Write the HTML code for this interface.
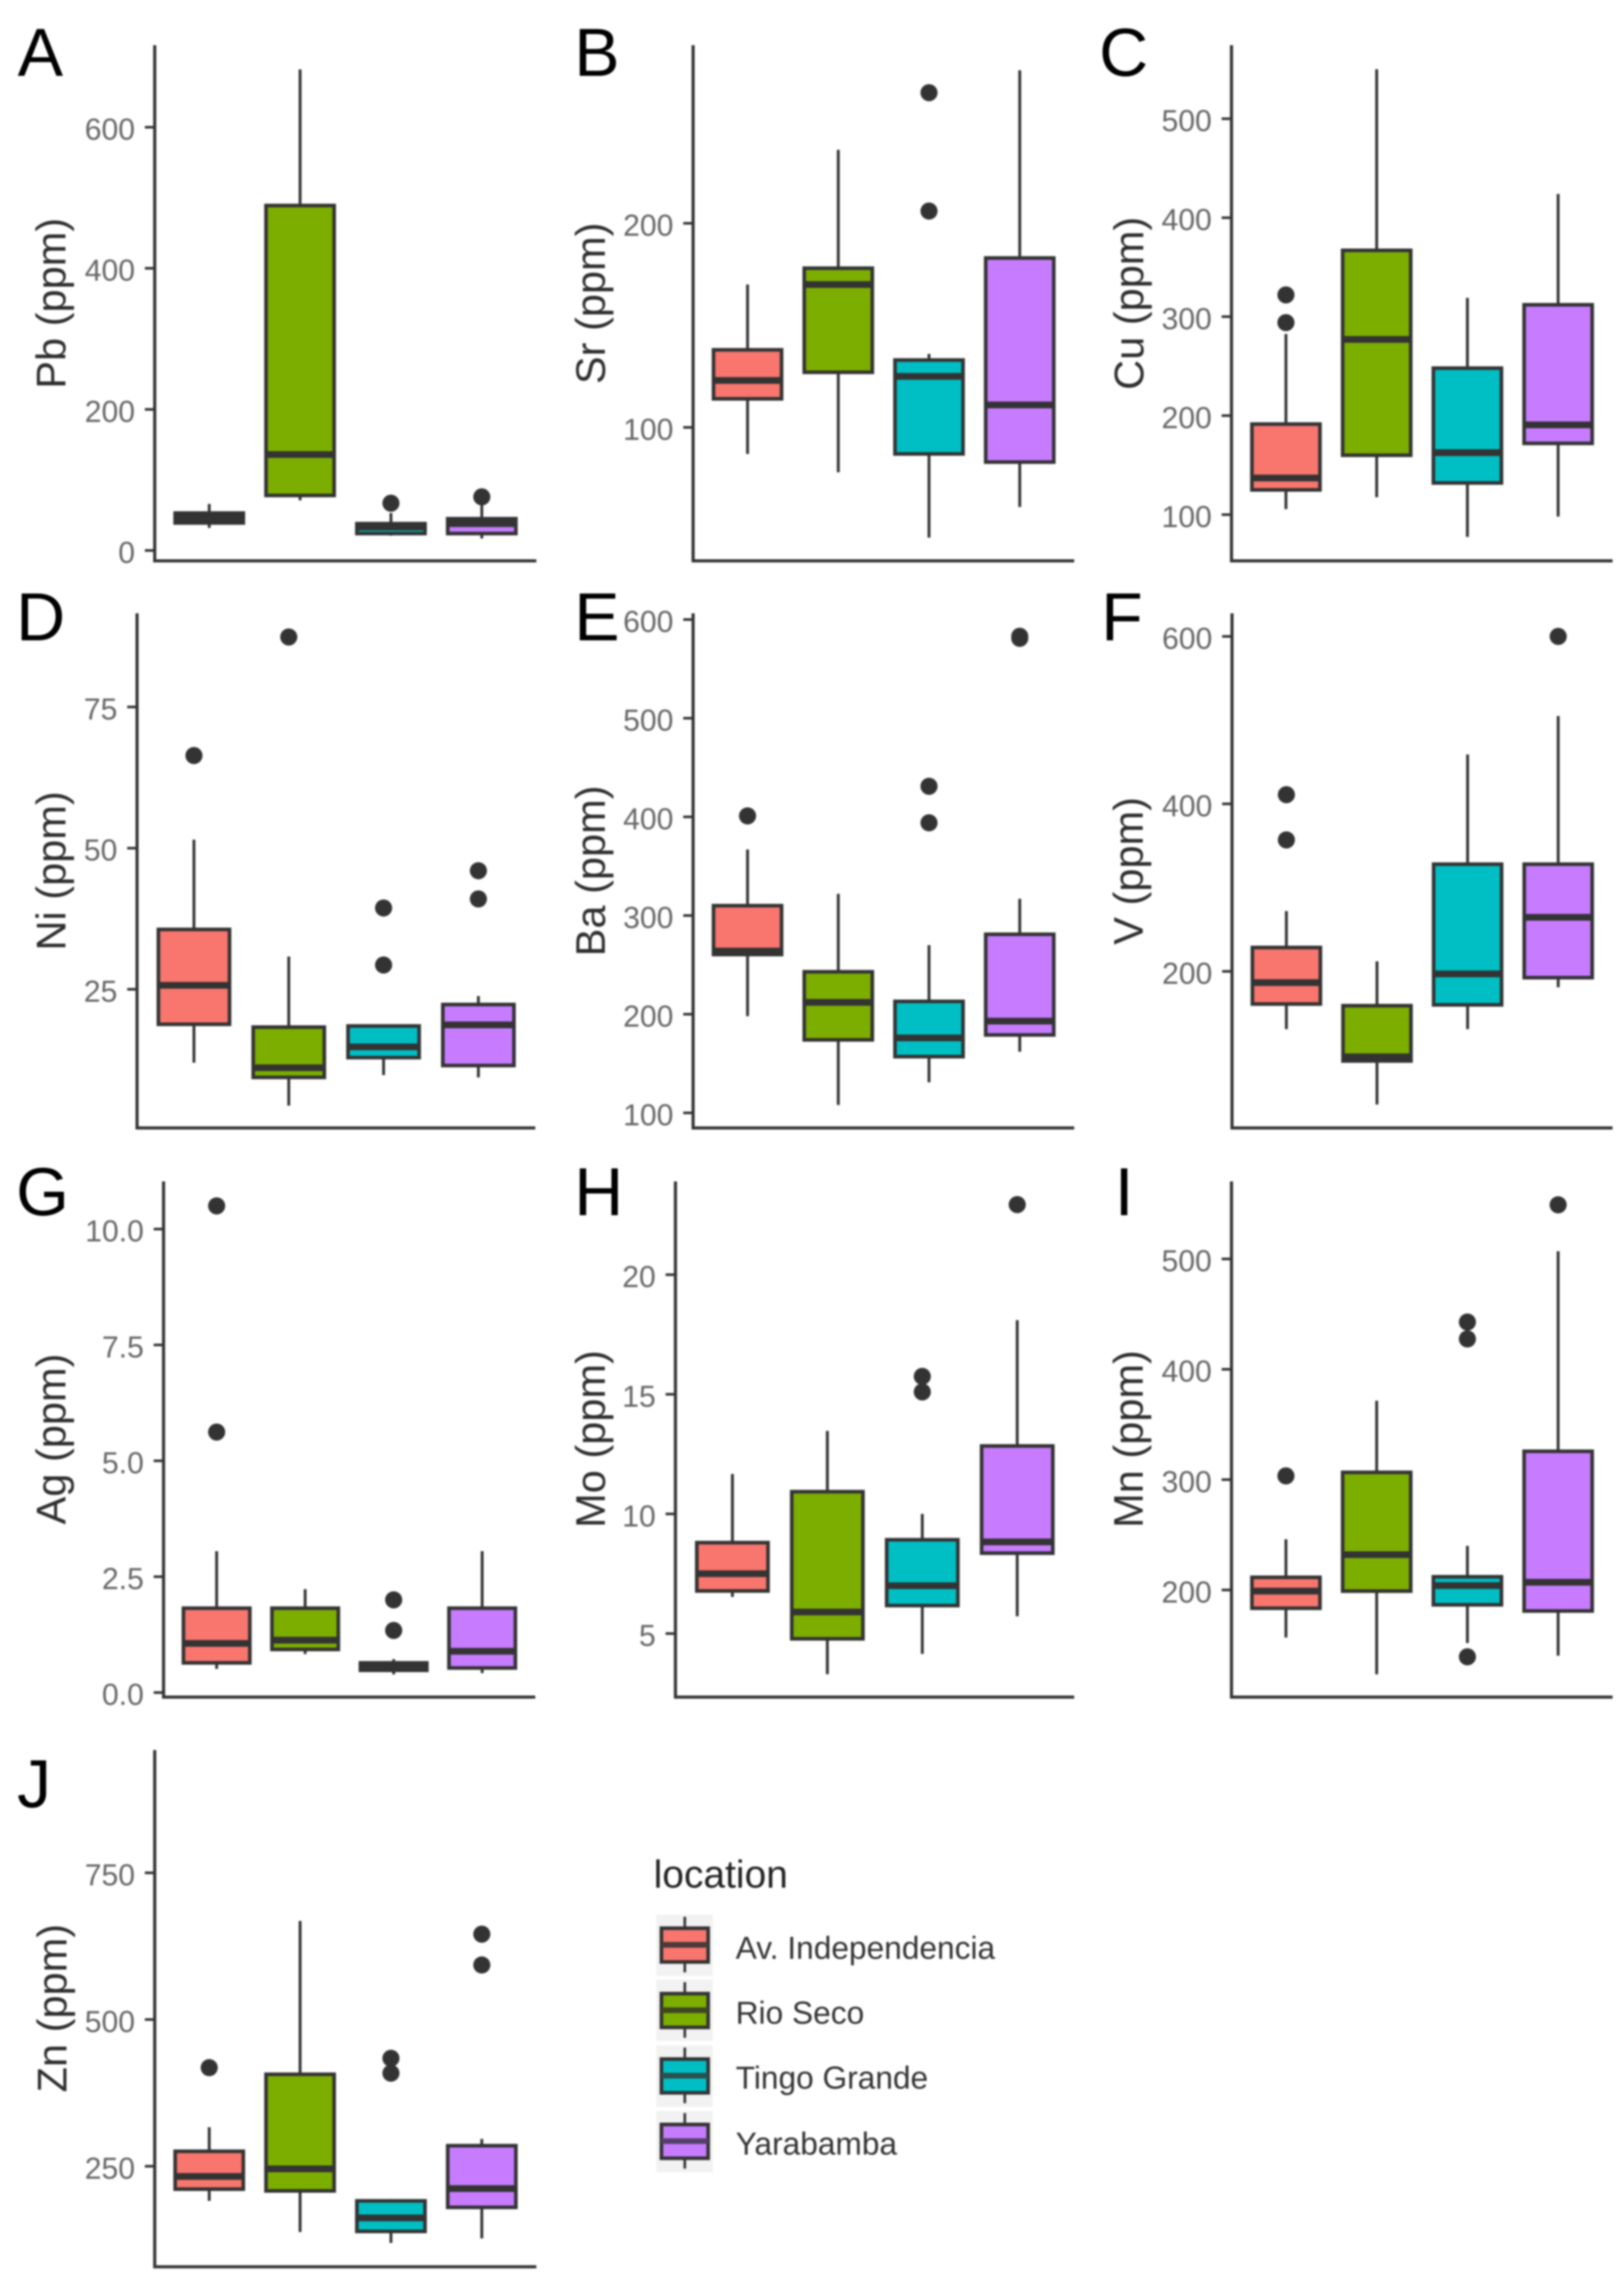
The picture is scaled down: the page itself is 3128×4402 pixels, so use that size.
<!DOCTYPE html>
<html lang="en">
<head>
<meta charset="utf-8">
<title>Trace element boxplots by location</title>
<style>
html,body{margin:0;padding:0;background:#fff;}
#figure{display:block;width:3128px;height:4402px;filter:blur(1.8px);font-family:"Liberation Sans",Arial,sans-serif;}
.letter{font-size:131px;fill:#000;}
.ytitle{font-size:80px;fill:#2e2e2e;text-anchor:middle;}
.legend-label{font-size:61px;fill:#333;}
</style>
</head>
<body>
<svg id="figure" xmlns="http://www.w3.org/2000/svg" width="3128" height="4402" viewBox="0 0 3128 4402">
  <rect x="0" y="0" width="3128" height="4402" fill="#ffffff"/>

  <g id="plots"></g>

  <g>
    <text class="letter" x="34" y="146">A</text>
    <text class="letter" x="1106" y="146">B</text>
    <text class="letter" x="2117" y="146">C</text>
    <text class="letter" x="31" y="1233">D</text>
    <text class="letter" x="1106" y="1233">E</text>
    <text class="letter" x="2121" y="1233">F</text>
    <text class="letter" x="31" y="2340">G</text>
    <text class="letter" x="1106" y="2340">H</text>
    <text class="letter" x="2147" y="2340">I</text>
    <text class="letter" x="33" y="3480">J</text>
  </g>

  <g>
    <text class="ytitle" transform="translate(126,584) rotate(-90)">Pb (ppm)</text>
    <text class="ytitle" transform="translate(1165,584) rotate(-90)">Sr (ppm)</text>
    <text class="ytitle" transform="translate(2202,584) rotate(-90)">Cu (ppm)</text>
    <text class="ytitle" transform="translate(126,1677) rotate(-90)">Ni (ppm)</text>
    <text class="ytitle" transform="translate(1165,1677) rotate(-90)">Ba (ppm)</text>
    <text class="ytitle" transform="translate(2201,1677) rotate(-90)">V (ppm)</text>
    <text class="ytitle" transform="translate(126,2771) rotate(-90)">Ag (ppm)</text>
    <text class="ytitle" transform="translate(1165,2771) rotate(-90)">Mo (ppm)</text>
    <text class="ytitle" transform="translate(2201,2771) rotate(-90)">Mn (ppm)</text>
    <text class="ytitle" transform="translate(128,3867) rotate(-90)">Zn (ppm)</text>
  </g>

  <g>
    <text x="1259" y="3635" font-size="75" fill="#222">location</text>

    <g>
      <rect x="1264" y="3687" width="109" height="118" fill="#f2f2f2"/>
      <line x1="1319" y1="3691" x2="1319" y2="3798" stroke="#333" stroke-width="5"/>
      <rect x="1274" y="3713" width="90" height="65" fill="#F8766D" stroke="#333" stroke-width="7"/>
      <line x1="1274" y1="3745" x2="1364" y2="3745" stroke="#4a3a3a" stroke-width="11"/>
      <text class="legend-label" x="1417" y="3772">Av. Independencia</text>
    </g>
    <g>
      <rect x="1264" y="3812" width="109" height="118" fill="#f2f2f2"/>
      <line x1="1319" y1="3817" x2="1319" y2="3924" stroke="#333" stroke-width="5"/>
      <rect x="1274" y="3839" width="90" height="65" fill="#7CAE00" stroke="#333" stroke-width="7"/>
      <line x1="1274" y1="3871" x2="1364" y2="3871" stroke="#40471f" stroke-width="11"/>
      <text class="legend-label" x="1417" y="3897">Rio Seco</text>
    </g>
    <g>
      <rect x="1264" y="3939" width="109" height="118" fill="#f2f2f2"/>
      <line x1="1319" y1="3943" x2="1319" y2="4050" stroke="#333" stroke-width="5"/>
      <rect x="1274" y="3965" width="90" height="65" fill="#00BFC4" stroke="#333" stroke-width="7"/>
      <line x1="1274" y1="3997" x2="1364" y2="3997" stroke="#2a5050" stroke-width="11"/>
      <text class="legend-label" x="1417" y="4022">Tingo Grande</text>
    </g>
    <g>
      <rect x="1264" y="4065" width="109" height="118" fill="#f2f2f2"/>
      <line x1="1319" y1="4069" x2="1319" y2="4176" stroke="#333" stroke-width="5"/>
      <rect x="1274" y="4091" width="90" height="65" fill="#C77CFF" stroke="#333" stroke-width="7"/>
      <line x1="1274" y1="4123" x2="1364" y2="4123" stroke="#54406a" stroke-width="11"/>
      <text class="legend-label" x="1417" y="4149">Yarabamba</text>
    </g>
  </g>
</svg>

<script>
// Categories shared by every panel
const categories = ['Av. Independencia', 'Rio Seco', 'Tingo Grande', 'Yarabamba'];
const fills = ['#F8766D', '#7CAE00', '#00BFC4', '#C77CFF'];

// Each stats row, per category: lower whisker, Q1, median, Q3, upper whisker
const pbStats = [[32, 39, 46, 53, 66], [71, 78, 136, 489, 682], [21, 24, 33, 38, 53], [17, 24, 38, 45, 66]];
const pbOutliers = [[], [], [67], [76]];
const pbTicks = [0, 200, 400, 600];
const pbTickLabels = ['0', '200', '400', '600'];

const srStats = [[87, 114, 123, 138, 170], [78, 127, 170, 178, 236], [46, 87, 125, 133, 136], [61, 83, 111, 183, 275]];
const srOutliers = [[], [], [206, 264], []];
const srTicks = [100, 200];
const srTickLabels = ['100', '200'];

const cuStats = [[105.6, 125, 137, 191.5, 282.5], [117.6, 160, 277, 367, 550], [77.5, 132, 162.6, 248, 319], [98, 172, 190.7, 312, 424]];
const cuOutliers = [[294, 322], [], [], []];
const cuTicks = [100, 200, 300, 400, 500];
const cuTickLabels = ['100', '200', '300', '400', '500'];

const niStats = [[12, 18.8, 25.7, 35.6, 51.5], [4.4, 9.4, 11.1, 18.3, 30.8], [9.8, 12.9, 14.8, 18.5, 18.6], [9.4, 11.5, 18.7, 22.3, 23.8]];
const niOutliers = [[66.4], [87.4], [29.3, 39.4], [41, 46]];
const niTicks = [25, 50, 75];
const niTickLabels = ['25', '50', '75'];

const baStats = [[198, 260.5, 264, 310, 367], [108, 174, 212, 243, 322], [131, 157, 176, 213, 270], [162, 179, 193, 281, 317]];
const baOutliers = [[401], [], [394, 431], [581, 583]];
const baTicks = [100, 200, 300, 400, 500, 600];
const baTickLabels = ['100', '200', '300', '400', '500', '600'];

const vStats = [[131, 161, 186.6, 228.5, 272], [41, 93, 98, 159, 212], [131, 160, 197, 328, 459], [181, 192.5, 264.6, 328, 505]];
const vOutliers = [[357, 411], [], [], [600]];
const vTicks = [200, 400, 600];
const vTickLabels = ['200', '400', '600'];

const agStats = [[0.51, 0.64, 1.06, 1.82, 3.05], [0.83, 0.93, 1.13, 1.82, 2.23], [0.39, 0.48, 0.55, 0.64, 0.72], [0.42, 0.53, 0.89, 1.82, 3.05]];
const agOutliers = [[5.62, 10.5], [], [1.34, 2.0], []];
const agTicks = [0, 2.5, 5, 7.5, 10];
const agTickLabels = ['0.0', '2.5', '5.0', '7.5', '10.0'];

const moStats = [[6.53, 6.78, 7.5, 8.8, 11.67], [3.3, 4.78, 5.9, 10.93, 13.47], [4.15, 6.17, 7, 8.92, 10], [5.72, 8.36, 8.83, 12.84, 18.1]];
const moOutliers = [[], [], [15.1, 15.75], [22.93]];
const moTicks = [5, 10, 15, 20];
const moTickLabels = ['5', '10', '15', '20'];

const mnStats = [[157, 183.5, 199, 211.5, 246], [123.6, 199, 232, 306.6, 371.5], [152, 186.6, 204, 212, 240], [140.5, 181, 207, 325.7, 507]];
const mnOutliers = [[303.4], [], [139.5, 427.5, 442.8], [549]];
const mnTicks = [200, 300, 400, 500];
const mnTickLabels = ['200', '300', '400', '500'];

const znStats = [[191, 211, 232.6, 275.5, 316.5], [138, 208, 245.6, 406.7, 668], [119.4, 139, 162, 191, 194], [127, 180, 212, 285, 296.6]];
const znOutliers = [[418], [], [408.6, 434], [593, 645.5]];
const znTicks = [250, 500, 750];
const znTickLabels = ['250', '500', '750'];

// Panel layout: frame in pixels plus the two reference ticks that fix each y scale
const panels = [
  {id: 'pb', stats: pbStats, outliers: pbOutliers, ticks: pbTicks, labels: pbTickLabels, x0: 298, x1: 1033, top: 87, bottom: 1080, refLow: 0, pxLow: 1060, refHigh: 600, pxHigh: 245},
  {id: 'sr', stats: srStats, outliers: srOutliers, ticks: srTicks, labels: srTickLabels, x0: 1335, x1: 2069, top: 87, bottom: 1080, refLow: 100, pxLow: 823, refHigh: 200, pxHigh: 430},
  {id: 'cu', stats: cuStats, outliers: cuOutliers, ticks: cuTicks, labels: cuTickLabels, x0: 2372, x1: 3106, top: 87, bottom: 1080, refLow: 100, pxLow: 991, refHigh: 500, pxHigh: 228.6},
  {id: 'ni', stats: niStats, outliers: niOutliers, ticks: niTicks, labels: niTickLabels, x0: 264, x1: 1031, top: 1181, bottom: 2172, refLow: 25, pxLow: 1905, refHigh: 75, pxHigh: 1361.4},
  {id: 'ba', stats: baStats, outliers: baOutliers, ticks: baTicks, labels: baTickLabels, x0: 1335, x1: 2069, top: 1181, bottom: 2172, refLow: 100, pxLow: 2143, refHigh: 600, pxHigh: 1193},
  {id: 'v', stats: vStats, outliers: vOutliers, ticks: vTicks, labels: vTickLabels, x0: 2373, x1: 3106, top: 1181, bottom: 2172, refLow: 200, pxLow: 1870.5, refHigh: 600, pxHigh: 1225.5},
  {id: 'ag', stats: agStats, outliers: agOutliers, ticks: agTicks, labels: agTickLabels, x0: 315, x1: 1031, top: 2275, bottom: 3268, refLow: 0, pxLow: 3259.2, refHigh: 10, pxHigh: 2366.7},
  {id: 'mo', stats: moStats, outliers: moOutliers, ticks: moTicks, labels: moTickLabels, x0: 1301, x1: 2069, top: 2275, bottom: 3268, refLow: 5, pxLow: 3145.6, refHigh: 20, pxHigh: 2454.6},
  {id: 'mn', stats: mnStats, outliers: mnOutliers, ticks: mnTicks, labels: mnTickLabels, x0: 2372, x1: 3106, top: 2275, bottom: 3268, refLow: 200, pxLow: 3061.8, refHigh: 500, pxHigh: 2424.2},
  {id: 'zn', stats: znStats, outliers: znOutliers, ticks: znTicks, labels: znTickLabels, x0: 298, x1: 1033, top: 3370, bottom: 4365, refLow: 250, pxLow: 4171.4, refHigh: 750, pxHigh: 3606.4}
];

const SVG_NS = 'http://www.w3.org/2000/svg';
const INK = '#333333';

function shape(parent, tag, geometry) {
  const el = document.createElementNS(SVG_NS, tag);
  for (const key in geometry) el.setAttribute(key, geometry[key]);
  parent.appendChild(el);
  return el;
}

function yScale(p) {
  const slope = (p.pxHigh - p.pxLow) / (p.refHigh - p.refLow);
  return function (v) { return p.pxLow + (v - p.refLow) * slope; };
}

function xScale(p) {
  const unit = (p.x1 - p.x0) / 4.2;
  return {
    center: function (i) { return p.x0 + (i + 0.6) * unit; },
    boxWidth: 0.75 * unit
  };
}

function drawPanel(root, p) {
  const y = yScale(p);
  const x = xScale(p);

  const panel = shape(root, 'g', {});
  
  

  p.ticks.forEach(function (t, i) {
    const tick = shape(panel, 'line', {x1: p.x0 - 19, x2: p.x0, y1: y(t), y2: y(t), stroke: INK, 'stroke-width': 5});
    
    

    const label = shape(panel, 'text', {x: p.x0 - 38, y: y(t) + 24, 'font-size': 58, fill: '#666666', 'text-anchor': 'end'});
    label.textContent = p.labels[i];
    
    
  });

  categories.forEach(function (category, i) {
    const s = p.stats[i];
    const cx = x.center(i);
    const left = cx - x.boxWidth / 2;
    const slug = category.toLowerCase().replace(/[^a-z]+/g, '-');

    const whisker = shape(panel, 'line', {x1: cx, x2: cx, y1: y(s[0]), y2: y(s[4]), stroke: INK, 'stroke-width': 5.5});
    
    

    const box = shape(panel, 'rect', {x: left, y: y(s[3]), width: x.boxWidth, height: y(s[1]) - y(s[3]), fill: fills[i], stroke: INK, 'stroke-width': 7});
    
    

    const median = shape(panel, 'line', {x1: left, x2: left + x.boxWidth, y1: y(s[2]), y2: y(s[2]), stroke: INK, 'stroke-width': 13});
    
    

    p.outliers[i].forEach(function (v) {
      const dot = shape(panel, 'circle', {cx: cx, cy: y(v), r: 16.5, fill: INK});
      
      
    });
  });

  const yAxis = shape(panel, 'line', {x1: p.x0, x2: p.x0, y1: p.top, y2: p.bottom + 3, stroke: INK, 'stroke-width': 6});
  
  

  const xAxis = shape(panel, 'line', {x1: p.x0 - 3, x2: p.x1, y1: p.bottom, y2: p.bottom, stroke: INK, 'stroke-width': 6});
  
  
}

const plotRoot = document.getElementById('plots');
panels.forEach(function (p) { drawPanel(plotRoot, p); });
</script>
</body>
</html>
